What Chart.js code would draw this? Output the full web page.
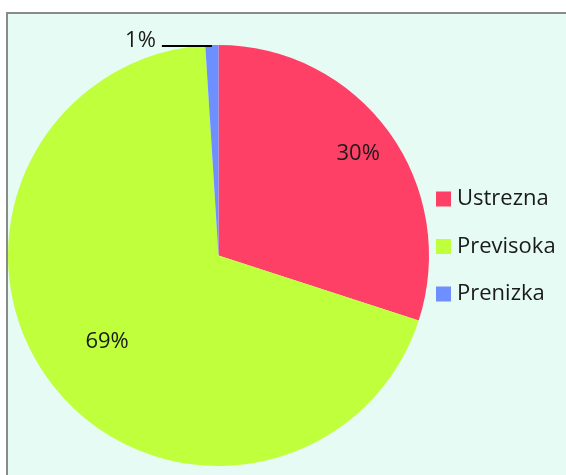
<!DOCTYPE html>
<html>
<head>
<meta charset="utf-8">
<script src="https://cdn.jsdelivr.net/npm/chart.js@4.4.1/dist/chart.umd.min.js"></script>
<style>
  html, body { margin: 0; padding: 0; background: #ffffff; }
  body { width: 566px; height: 475px; position: relative; overflow: hidden; }
  #frame { position: absolute; left: 6px; top: 12px; width: 600px; height: 500px;
           border-left: 2px solid #8a8a8a; border-top: 2px solid #8a8a8a; background: #e6fbf3; }
  #c { position: absolute; left: 0; top: 0; }
</style>
</head>
<body>
<div id="frame"></div>
<canvas id="c" width="566" height="475"></canvas>
<script>
const categories = ['Ustrezna', 'Previsoka', 'Prenizka'];
const values = [30, 69, 1];
const valueLabels = ['30%', '69%', '1%'];
const colors = ['#ff4066', '#bfff3c', '#6e8fff'];

const labelPlugin = {
  id: 'sliceLabels',
  afterDatasetsDraw(chart, args, opts) {
    const ctx = chart.ctx;
    const meta = chart.getDatasetMeta(0);
    ctx.save();
    ctx.font = opts.font;
    ctx.fillStyle = opts.color;
    meta.data.forEach((arc, i) => {
      const p = arc.getProps(['x', 'y', 'startAngle', 'endAngle', 'outerRadius'], true);
      const mid = (p.startAngle + p.endAngle) / 2;
      const f = opts.radiusFactors[i];
      if (f > 0) {
        ctx.textAlign = 'center';
        ctx.textBaseline = 'middle';
        ctx.fillText(valueLabels[i], p.x + Math.cos(mid) * p.outerRadius * f, p.y + Math.sin(mid) * p.outerRadius * f);
      } else {
        const ax = p.x + Math.cos(mid) * p.outerRadius;
        const ay = p.y + Math.sin(mid) * p.outerRadius + 1;
        const bx = ax - opts.leaderLength;
        ctx.strokeStyle = '#000';
        ctx.lineWidth = 2;
        ctx.beginPath();
        ctx.moveTo(ax, ay);
        ctx.lineTo(bx, ay);
        ctx.stroke();
        ctx.textAlign = 'right';
        ctx.textBaseline = 'alphabetic';
        ctx.fillText(valueLabels[i], bx - 6, ay + 1);
      }
    });
    ctx.restore();
  }
};

const legendPlugin = {
  id: 'sideLegend',
  afterDraw(chart, args, opts) {
    const ctx = chart.ctx;
    ctx.save();
    ctx.font = opts.font;
    ctx.textAlign = 'left';
    ctx.textBaseline = 'middle';
    categories.forEach((name, i) => {
      const cy = opts.top + i * opts.spacing;
      ctx.fillStyle = colors[i];
      ctx.fillRect(opts.left, cy - opts.box / 2, opts.box, opts.box);
      ctx.fillStyle = opts.color;
      ctx.fillText(name, opts.left + opts.box + 6, cy);
    });
    ctx.restore();
  }
};

new Chart(document.getElementById('c'), {
  type: 'pie',
  data: {
    labels: categories,
    datasets: [{ data: values, backgroundColor: colors, borderWidth: 0 }]
  },
  options: {
    responsive: false,
    animation: false,
    layout: { padding: { left: 8, top: 45, right: 137, bottom: 9 } },
    plugins: {
      legend: { display: false },
      tooltip: { enabled: false },
      sliceLabels: { font: '22px "Open Sans"', color: '#1a1a1a', radiusFactors: [0.82, 0.67, 0], leaderLength: 50 },
      sideLegend: { font: '22px "Open Sans"', color: '#1a1a1a', left: 436, top: 199, spacing: 47.5, box: 15 }
    }
  },
  plugins: [labelPlugin, legendPlugin]
});
</script>
</body>
</html>
